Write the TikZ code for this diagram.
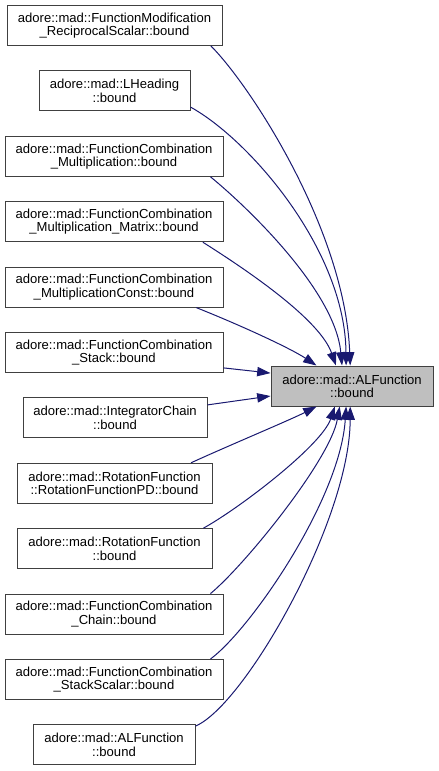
\documentclass[tikz,border=0pt]{standalone}
\usepackage{fontspec}
\setmainfont{Liberation Sans}
\usetikzlibrary{arrows.meta}
\definecolor{edgeblue}{HTML}{191970}
\definecolor{boxborder}{HTML}{404040}
\definecolor{targetfill}{HTML}{BFBFBF}
\begin{document}
\begin{tikzpicture}[x=0.75pt,y=-0.75pt,
  box/.style={draw=boxborder, line width=0.75pt, fill=white, rectangle, inner sep=0pt,
    minimum height=40*0.75pt, align=center, font=\fontsize{9.8}{10}\selectfont},
  target/.style={box, fill=targetfill},
  edge/.style={draw=edgeblue, line width=0.75pt, -{Triangle[length=10pt,width=7pt]}}]
\useasboundingbox (0,0) rectangle (439,771);

\node[box, minimum width=215*0.75pt] (b1) at (114.5,25.5) {adore::mad::FunctionModification\\\_ReciprocalScalar::bound};
\node[box, minimum width=151*0.75pt] (b2) at (114.5,90.9) {adore::mad::LHeading\\::bound};
\node[box, minimum width=218*0.75pt] (b3) at (114,156.3) {adore::mad::FunctionCombination\\\_Multiplication::bound};
\node[box, minimum width=218*0.75pt] (b4) at (114,221.7) {adore::mad::FunctionCombination\\\_Multiplication\_Matrix::bound};
\node[box, minimum width=218*0.75pt] (b5) at (114,287.1) {adore::mad::FunctionCombination\\\_MultiplicationConst::bound};
\node[box, minimum width=218*0.75pt] (b6) at (114,352.5) {adore::mad::FunctionCombination\\\_Stack::bound};
\node[box, minimum width=184*0.75pt] (b7) at (115,417.9) {adore::mad::IntegratorChain\\::bound};
\node[box, minimum width=195*0.75pt] (b8) at (114.5,483.3) {adore::mad::RotationFunction\\::RotationFunctionPD::bound};
\node[box, minimum width=195*0.75pt] (b9) at (114.5,548.7) {adore::mad::RotationFunction\\::bound};
\node[box, minimum width=218*0.75pt] (b10) at (114,614.1) {adore::mad::FunctionCombination\\\_Chain::bound};
\node[box, minimum width=218*0.75pt] (b11) at (114,679.5) {adore::mad::FunctionCombination\\\_StackScalar::bound};
\node[box, minimum width=162*0.75pt] (b12) at (114,744.9) {adore::mad::ALFunction\\::bound};
\node[target, minimum width=162*0.75pt] (t) at (352,386) {adore::mad::ALFunction\\::bound};

\draw[edge] (b1.-12.5) .. controls (250,85) and (345,230) .. (t.95.7);
\draw[edge] (b2.-12) .. controls (250,140) and (345,250) .. (t.106.7);
\draw[edge] (b3.-12.4) .. controls (245,205) and (335,290) .. (t.116.6);
\draw[edge] (b4.-13.1) .. controls (250,272) and (320,320) .. (t.128.7);
\draw[edge] (b5.-14.4) .. controls (240,325) and (290,348) .. (t.150.9);
\draw[edge] (b6.-8.1) -- (t.171.6);
\draw[edge] (b7.8.7) -- (t.-173);
\draw[edge] (b8.15.2) .. controls (230,445) and (290,420) .. (t.-150.9);
\draw[edge] (b9.13.6) .. controls (240,508) and (322,445) .. (t.-130.4);
\draw[edge] (b10.12.7) .. controls (245,565) and (330,460) .. (t.-121);
\draw[edge] (b11.12.4) .. controls (250,630) and (340,500) .. (t.-106.7);
\draw[edge] (b12.13.2) .. controls (245,705) and (350,520) .. (t.-95.7);
\end{tikzpicture}
\end{document}
